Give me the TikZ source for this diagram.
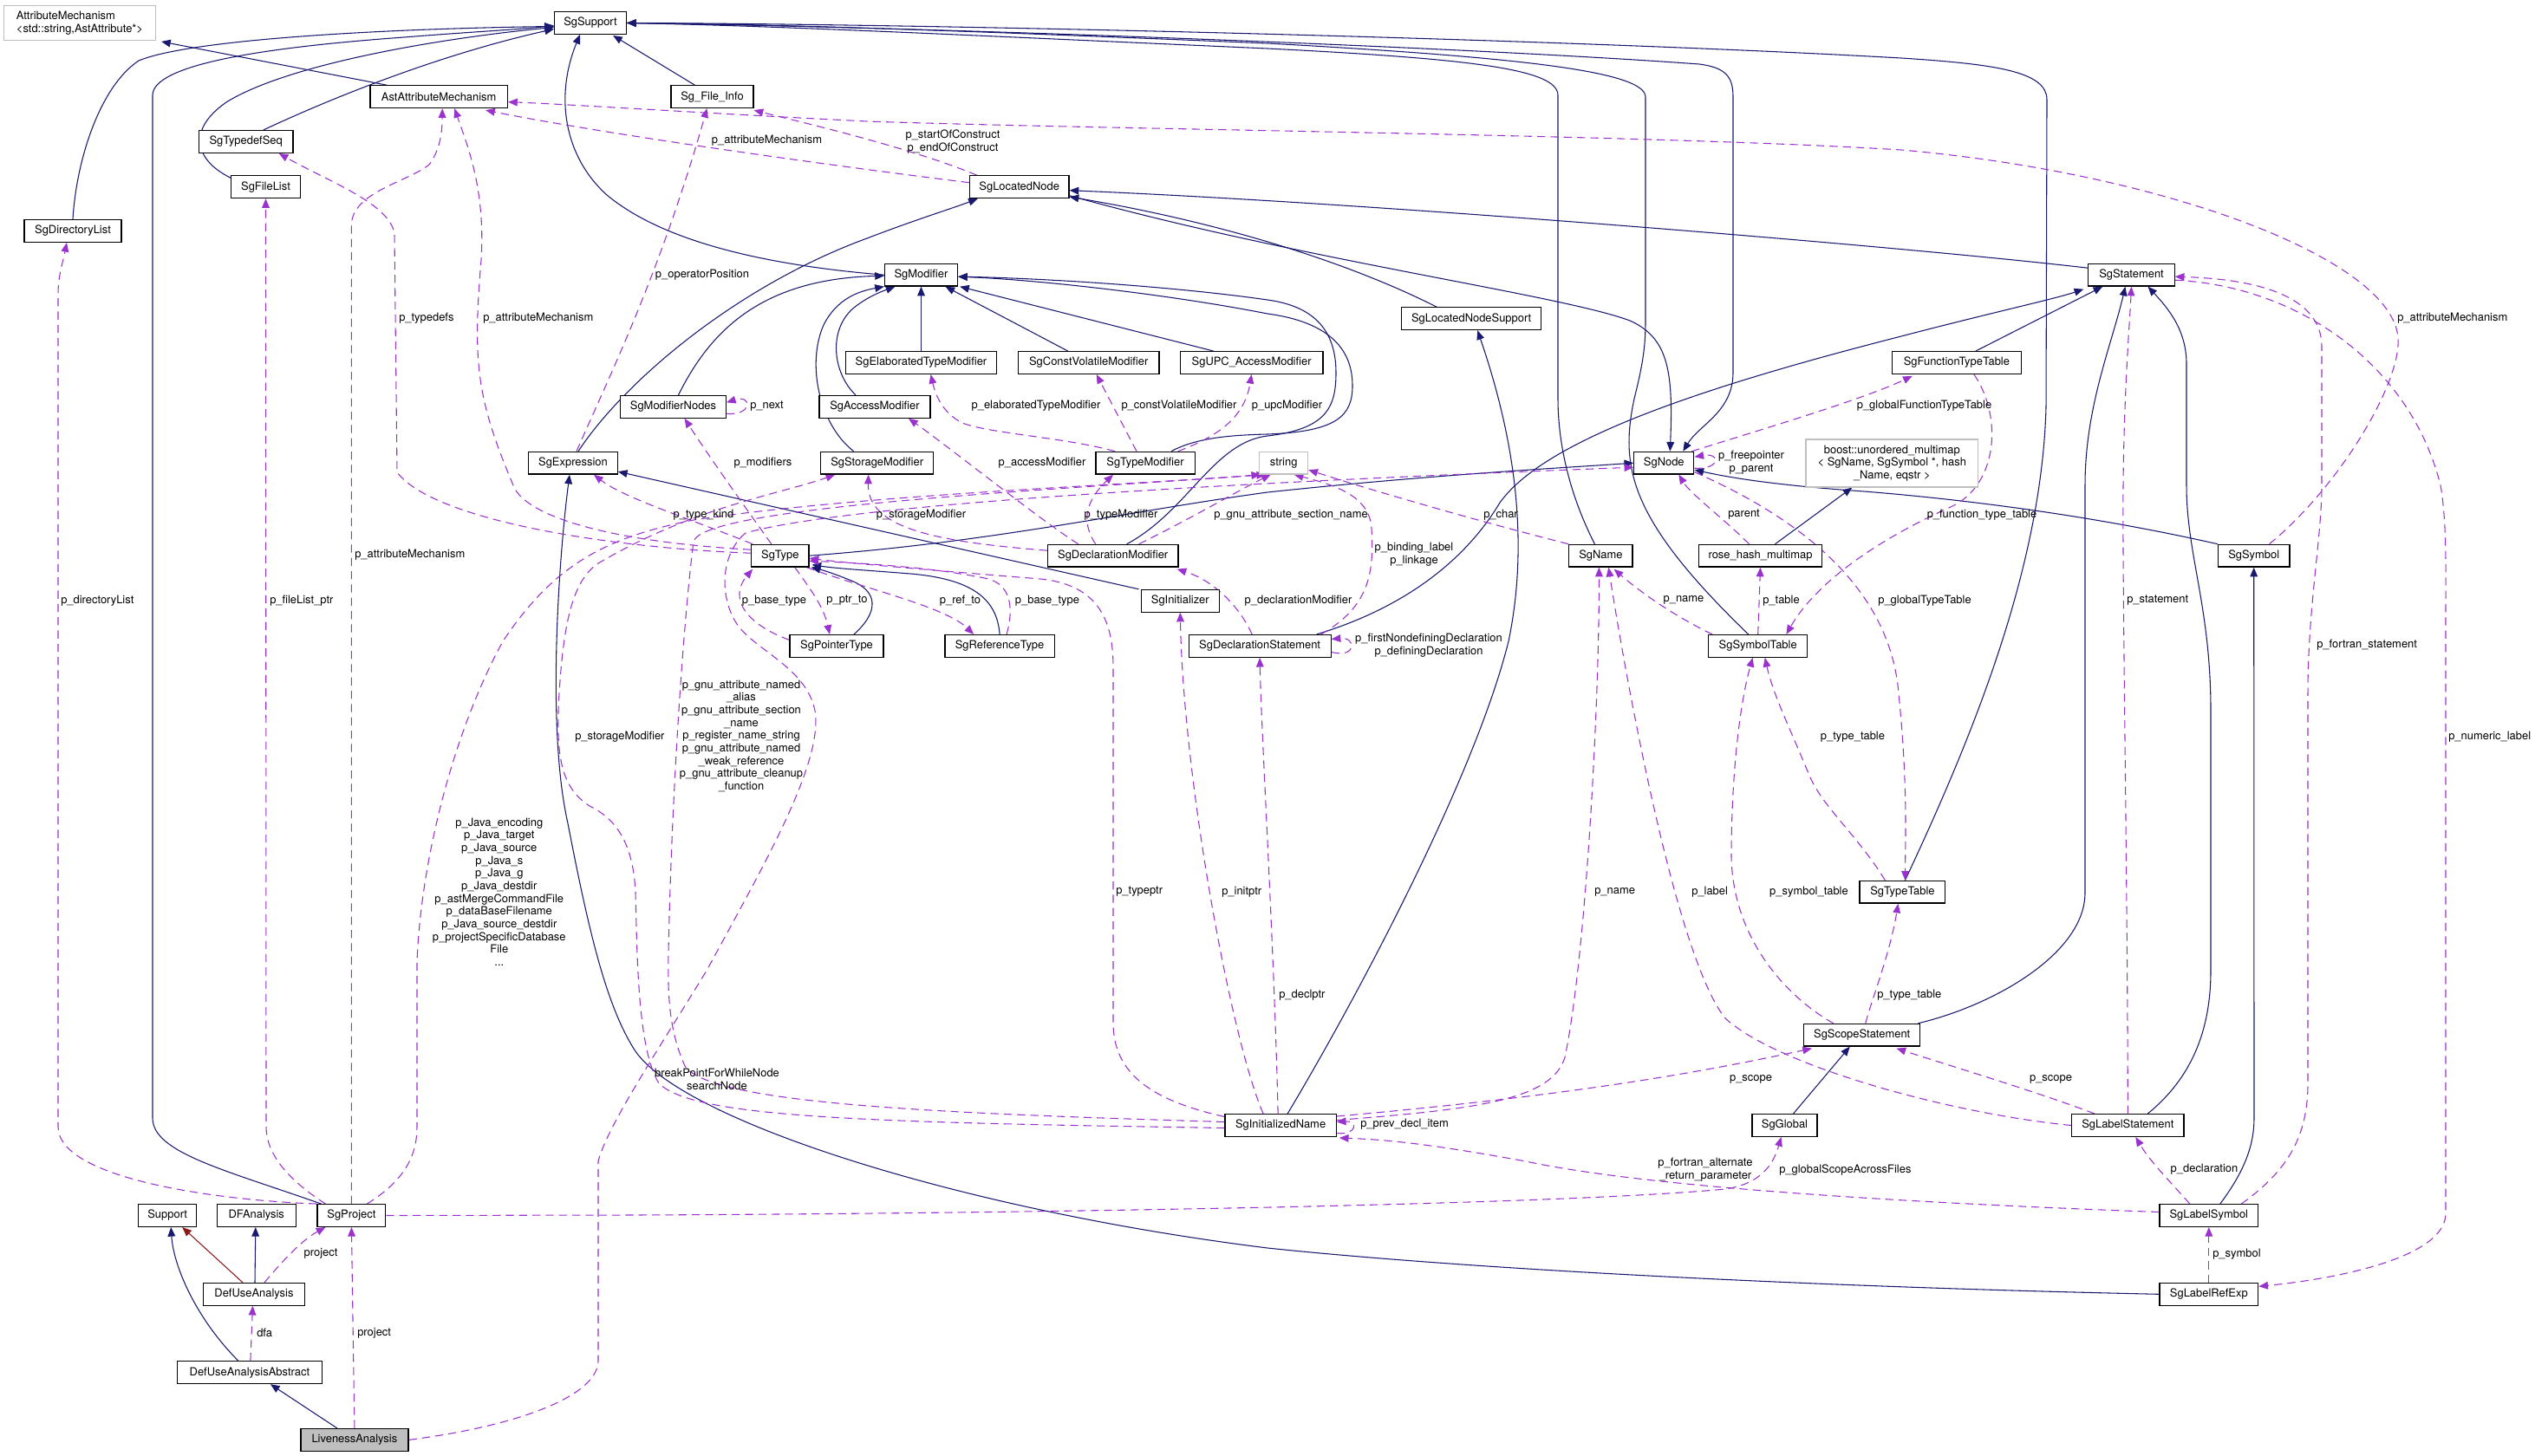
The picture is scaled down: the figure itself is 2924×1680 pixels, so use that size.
\documentclass[tikz,border=0pt]{standalone}
\usepackage{fontspec}
\setmainfont{TeX Gyre Heros}
\usetikzlibrary{arrows.meta,calc}
\definecolor{navy}{HTML}{191970}
\definecolor{purp}{HTML}{9A32CD}
\definecolor{dred}{HTML}{8B1A1A}
\definecolor{gb}{HTML}{BFBFBF}
\newcommand\fs{\fontsize{9.7pt}{11pt}\selectfont}
\newcommand\bx[4]{\node[box,minimum width=#3*0.75pt] (#1) at (#2) {#4};}
\pgfdeclarelayer{back}
\pgfdeclarelayer{bg}
\pgfsetlayers{back,bg,main}
\begin{document}
\begin{tikzpicture}[x=0.75pt,y=-0.75pt,
  box/.style={draw=black,line width=0.9pt,fill=white,inner sep=0pt,minimum height=19.3pt,font=\fs},
  gbox/.style={box,draw=gb},
  tipa/.style={-{Triangle[length=8pt,width=6.5pt]}},
  inh/.style={draw=navy,line width=0.8pt,tipa},
  inhred/.style={draw=dred,line width=0.8pt,tipa},
  use/.style={draw=purp,line width=0.8pt,dash pattern=on 7pt off 4.5pt,tipa},
  lbl/.style={font=\fs,inner sep=0pt,align=center}]
\begin{pgfonlayer}{back}
\fill[white] (0,0) rectangle (2924,1680);
\end{pgfonlayer}
\useasboundingbox (0,0) rectangle (2924,1680);

% ---------- nodes ----------
\bx{SgSupport}{681,26.5}{83}{SgSupport}
\node[gbox,minimum width=175*0.75pt,minimum height=40*0.75pt,align=left] (AttrMech) at (92,26.4) {AttributeMechanism\\<std::string,AstAttribute*>};
\bx{AstAttr}{506.2,111.7}{158.5}{AstAttributeMechanism}
\bx{SgTypedefSeq}{283.7,163.5}{108.6}{SgTypedefSeq}
\bx{SgFileList}{306.5,215.7}{79.7}{SgFileList}
\bx{SgDirectoryList}{84,266.5}{112}{SgDirectoryList}
\bx{SgExpression}{661,534.2}{102.6}{SgExpression}
\bx{SgFileInfo}{821.5,111.7}{95}{Sg\_File\_Info}
\bx{SgLocatedNode}{1175.7,215.7}{114.6}{SgLocatedNode}
\bx{SgModifier}{1062.5,317.2}{84}{SgModifier}
\bx{SgElab}{1062.5,418.5}{174.3}{SgElaboratedTypeModifier}
\bx{SgConstVolatile}{1255.7,418.5}{162.6}{SgConstVolatileModifier}
\bx{SgUPC}{1443.6,418.5}{164.6}{SgUPC\_AccessModifier}
\bx{SgModifierNodes}{776.5,469.3}{121.7}{SgModifierNodes}
\bx{SgAccessModifier}{1009,469.3}{128}{SgAccessModifier}
\bx{SgStorageModifier}{1011.7,534.2}{129.7}{SgStorageModifier}
\bx{SgTypeModifier}{1321,534.2}{114.2}{SgTypeModifier}
\node[gbox,minimum width=56*0.75pt] (string) at (1480.7,534.2) {string};
\bx{SgLocatedNodeSupport}{1697.2,367.7}{160.8}{SgLocatedNodeSupport}
\bx{SgNode}{1919.3,534.2}{69}{SgNode}
\node[gbox,minimum width=198.6*0.75pt,minimum height=55*0.75pt,align=center] (boost) at (2182.3,534.5) {boost::unordered\_multimap\\< SgName, SgSymbol *, hash\\\_Name, eqstr >};
\bx{SgFunctionTypeTable}{2256.9,418.5}{149.2}{SgFunctionTypeTable}
\bx{SgStatement}{2458.5,317.2}{99.3}{SgStatement}
\bx{SgType}{899.8,641.2}{66.2}{SgType}
\bx{SgDeclarationModifier}{1283.7,641.2}{150.6}{SgDeclarationModifier}
\bx{SgInitializer}{1361.3,693.3}{90.4}{SgInitializer}
\bx{SgPointerType}{965,745.4}{108}{SgPointerType}
\bx{SgReferenceType}{1153.1,745.4}{126.3}{SgReferenceType}
\bx{SgDeclarationStatement}{1453.1,745.4}{164}{SgDeclarationStatement}
\bx{SgName}{1846.4,641.2}{73.2}{SgName}
\bx{rosehash}{2030.5,641.2}{142.2}{rose\_hash\_multimap}
\bx{SgSymbolTable}{2027.7,745.4}{114.2}{SgSymbolTable}
\bx{SgTypeTable}{2194.4,1029.2}{98.8}{SgTypeTable}
\bx{SgSymbol}{2599.7,641.2}{82.5}{SgSymbol}
\bx{Support}{193.2,1402.5}{66.7}{Support}
\bx{DFAnalysis}{295.8,1402.5}{91}{DFAnalysis}
\bx{SgProject}{405.4,1402.5}{78.8}{SgProject}
\bx{DefUseAnalysis}{293,1493.3}{117}{DefUseAnalysis}
\bx{DefUseAnalysisAbstract}{287.9,1583.7}{166.4}{DefUseAnalysisAbstract}
\node[box,fill=gb,minimum width=124*0.75pt] (LivenessAnalysis) at (408.9,1661.4) {LivenessAnalysis};
\bx{SgInitializedName}{1477.1,1298.5}{128.3}{SgInitializedName}
\bx{SgScopeStatement}{2147.7,1194.2}{134.3}{SgScopeStatement}
\bx{SgGlobal}{2058.5,1298.5}{75}{SgGlobal}
\bx{SgLabelStatement}{2454.3,1298.5}{129.2}{SgLabelStatement}
\bx{SgLabelSymbol}{2547.8,1402.5}{113.8}{SgLabelSymbol}
\bx{SgLabelRefExp}{2547.8,1493.3}{113.8}{SgLabelRefExp}

\begin{pgfonlayer}{bg}
% ---------- inheritance ----------
\draw[inh] (SgDirectoryList.north) .. controls (88,185) and (115,100) .. (160,70) .. controls (220,45) and (450,33) .. ($(SgSupport.west)+(0,4)$);
\draw[inh] ($(SgProject.north)+(-35,0)$) .. controls (260,1350) and (176,1330) .. (176,1290) -- (176,110) .. controls (176,75) and (300,55) .. (466,43) .. controls (540,37) and (600,34) .. ($(SgSupport.west)+(0,3)$);
\draw[inh] ($(SgFileList.north west)+(0,3)$) .. controls (225,185) and (215,150) .. (261,118) .. controls (330,75) and (500,45) .. ($(SgSupport.west)+(0,5)$);
\draw[inh] ($(SgTypedefSeq.north)+(20,0)$) .. controls (400,105) and (520,60) .. ($(SgSupport.west)+(0,7)$);
\draw[inh] ($(AstAttr.north west)+(20,0)$) -- ($(AttrMech.south east)+(6,1)$);
\draw[inh] ($(SgFileInfo.north)+(-20,0)$) -- ($(SgSupport.south east)+(-16,1)$);
\draw[inh] (SgModifier.west) .. controls (870,305) and (760,275) .. (700,225) .. controls (650,180) and (640,110) .. ($(SgSupport.south)+(-12,0)$);
\draw[inh] (SgSupport.east) .. controls (1100,32) and (1700,55) .. (1960,74) .. controls (1992,78) and (1999,90) .. (1999,112) -- (1999,430) .. controls (1999,475) and (1960,490) .. ($(SgNode.north)+(22,0)$);
\draw[inh] ($(SgName.north)+(-7,0)$) .. controls (1805,560) and (1797,500) .. (1797,460) -- (1797,110) .. controls (1797,80) and (1700,68) .. (1462,56) .. controls (1100,40) and (900,30) .. (SgSupport.east);
\draw[inh] ($(SgSymbolTable.north)+(-11,0)$) .. controls (1880,600) and (1868,540) .. (1885,460) .. controls (1895,420) and (1898,400) .. (1898,370) -- (1898,112) .. controls (1898,82) and (1750,66) .. (1462,50) .. controls (1100,35) and (900,28) .. (SgSupport.east);
\draw[inh] ($(SgTypeTable.north)+(3,0)$) .. controls (2280,840) and (2355,650) .. (2360,470) -- (2361,115) .. controls (2361,82) and (2300,74) .. (2193,67) .. controls (1800,45) and (1100,28) .. (SgSupport.east);
\draw[inh] ($(SgPointerType.north)+(20,0)$) .. controls (1015,705) and (1012,682) .. (982,670) .. controls (965,663) and (950,658) .. ($(SgType.south east)+(2,0)$);
\draw[inh] (SgReferenceType.north) .. controls (1150,690) and (1120,668) .. (1050,662) .. controls (1000,658) and (965,656) .. ($(SgType.south east)+(3,-3)$);
\draw[inh] (SgType.east) .. controls (1150,625) and (1300,590) .. (1462,568) .. controls (1650,548) and (1800,540) .. (SgNode.west);
\draw[inh] (SgSymbol.north west) .. controls (2400,592) and (2250,575) .. (2150,567) .. controls (2050,560) and (2000,552) .. ($(SgNode.east)+(0,8)$);
\draw[inh] ($(SgInitializer.north west)+(-2,0)$) -- ($(SgExpression.east)+(0,10)$);
\draw[inh] ($(SgDeclarationModifier.north)+(16,0)$) .. controls (1370,590) and (1400,510) .. (1462,503) .. controls (1530,495) and (1541,470) .. (1541,430) .. controls (1541,372) and (1505,352) .. (1462,346) .. controls (1350,330) and (1200,321) .. ($(SgModifier.east)+(0,2)$);
\draw[inh] ($(SgTypeModifier.north)+(30,0)$) .. controls (1380,505) and (1420,502) .. (1462,501) .. controls (1542,498) and (1560,480) .. (1560,445) .. controls (1560,395) and (1522,370) .. (1462,362) .. controls (1350,340) and (1200,323) .. ($(SgModifier.east)+(0,2)$);
\draw[inh] ($(SgStorageModifier.north)+(-27,0)$) .. controls (945,490) and (930,420) .. (950,375) .. controls (965,345) and (990,336) .. (SgModifier.south west);
\draw[inh] ($(SgAccessModifier.north)+(-22,0)$) .. controls (960,430) and (955,380) .. (985,355) .. controls (1000,343) and (1015,337) .. ($(SgModifier.south)+(-30,0)$);
\draw[inh] (SgElab.north) -- (SgModifier.south);
\draw[inh] ($(SgConstVolatile.north)+(-24,0)$) -- ($(SgModifier.south)+(28,0)$);
\draw[inh] ($(SgUPC.north)+(-44,0)$) -- ($(SgModifier.south east)+(2,0)$);
\draw[inh] ($(SgModifierNodes.north)+(6,0)$) .. controls (820,380) and (880,322) .. ($(SgModifier.west)+(0,1)$);
\draw[inh] ($(SgExpression.north)+(6,0)$) .. controls (720,440) and (850,330) .. (1000,275) .. controls (1060,252) and (1100,240) .. ($(SgLocatedNode.south west)+(10,0)$);
\draw[inh] ($(SgLocatedNodeSupport.north)+(-40,0)$) .. controls (1550,300) and (1400,255) .. ($(SgLocatedNode.south east)+(0,-2)$);
\draw[inh] ($(SgStatement.west)+(0,-8)$) .. controls (2200,285) and (1600,235) .. ($(SgLocatedNode.east)+(0,4)$);
\draw[inh] ($(SgLocatedNode.east)+(0,10)$) .. controls (1500,300) and (1800,340) .. (1880,370) .. controls (1925,390) and (1930,430) .. ($(SgNode.north)+(7,0)$);
\draw[inh] ($(SgDeclarationStatement.north east)+(-17,0)$) .. controls (1640,695) and (1700,630) .. (1730,580) .. controls (1780,510) and (1950,450) .. (2193,388) .. controls (2300,360) and (2370,345) .. ($(SgStatement.south west)+(-5,3)$);
\draw[inh] ($(SgInitializedName.north)+(8,0)$) .. controls (1560,1160) and (1700,900) .. (1740,740) .. controls (1765,620) and (1745,500) .. ($(SgLocatedNodeSupport.south)+(7,0)$);
\draw[inh] ($(SgFunctionTypeTable.north)+(22,0)$) -- ($(SgStatement.south west)+(17,0)$);
\draw[inh] ($(SgScopeStatement.north east)+(-3,0)$) .. controls (2300,1160) and (2405,1100) .. (2405,1030) -- (2405,560) .. controls (2405,470) and (2435,400) .. ($(SgStatement.south)+(-7,0)$);
\draw[inh] ($(SgLabelStatement.north)+(23,0)$) .. controls (2520,1250) and (2550,1200) .. (2550,1120) -- (2550,820) .. controls (2550,700) and (2522,640) .. (2522,560) -- (2522,420) .. controls (2522,380) and (2500,355) .. ($(SgStatement.south)+(19,0)$);
\draw[inh] ($(SgLabelSymbol.north)+(13,0)$) .. controls (2590,1350) and (2600,1320) .. (2600,1290) -- (SgSymbol.south);
\draw[inh] (SgLabelRefExp.west) .. controls (2100,1485) and (1700,1465) .. (1462,1440) .. controls (1100,1395) and (780,1290) .. (731,1210) .. controls (700,1160) and (680,1080) .. (655,950) .. controls (630,840) and (645,640) .. ($(SgExpression.south)+(-4,0)$);
\draw[inh] ($(SgGlobal.north)+(10,0)$) -- ($(SgScopeStatement.south)+(-14,0)$);
\draw[inh] ($(LivenessAnalysis.north)+(-20,0)$) -- ($(DefUseAnalysisAbstract.south)+(24,0)$);
\draw[inh] ($(DefUseAnalysisAbstract.north)+(-13,0)$) .. controls (225,1520) and (200,1460) .. ($(Support.south)+(4,0)$);
\draw[inhred] ($(DefUseAnalysis.north)+(-13,0)$) -- ($(Support.south)+(17,0)$);
\draw[inh] ($(DefUseAnalysis.north)+(1,0)$) -- ($(DFAnalysis.south)+(-1,0)$);
\draw[inh] ($(rosehash.north)+(17,0)$) -- ($(boost.south)+(-46,0)$);

% ---------- usage (dashed) ----------
\draw[use] (SgProject.north west) .. controls (250,1385) and (67,1360) .. (67,1300) -- (67,340) .. controls (67,318) and (72,305) .. ($(SgDirectoryList.south)+(-7,0)$);
\draw[use] ($(SgProject.north)+(-30,0)$) .. controls (330,1360) and (307,1330) .. (307,1300) -- (SgFileList.south);
\draw[use] (SgProject.north) -- (405.4,260) .. controls (405.4,222) and (470,210) .. (495,190) .. controls (510,170) and (510,145) .. ($(AstAttr.south)+(4,0)$);
\draw[use] ($(SgType.west)+(0,-3)$) .. controls (700,632) and (500,600) .. (458,545) -- (455,270) .. controls (450,235) and (380,210) .. ($(SgTypedefSeq.south)+(38,0)$);
\draw[use] ($(SgType.west)+(0,-7)$) .. controls (700,625) and (605,595) .. (592,560) .. controls (550,460) and (545,420) .. (555,300) .. controls (560,220) and (540,170) .. ($(AstAttr.south)+(18,0)$);
\draw[use] ($(SgLocatedNode.west)+(0,-5)$) .. controls (950,190) and (700,155) .. ($(AstAttr.south east)+(-26,2)$);
\draw[use] ($(SgSymbol.north east)+(-24,0)$) .. controls (2700,560) and (2770,440) .. (2766,390) .. controls (2760,300) and (2500,200) .. (2193,173) .. controls (1900,155) and (1300,150) .. (1000,140) .. controls (800,130) and (650,120) .. ($(AstAttr.east)+(0,6)$);
\draw[use] ($(SgLocatedNode.north west)+(9,0)$) .. controls (1050,170) and (920,140) .. ($(SgFileInfo.south east)+(0,2)$);
\draw[use] ($(SgExpression.north)+(4,0)$) .. controls (700,440) and (760,320) .. ($(SgFileInfo.south)+(-6,0)$);
\draw[use] ($(SgModifierNodes.east)+(0,8)$) .. controls (868,480) and (868,455) .. ($(SgModifierNodes.east)+(0,-5)$);
\draw[use] ($(SgType.north)+(-10,0)$) .. controls (870,600) and (820,530) .. ($(SgModifierNodes.south)+(13,0)$);
\draw[use] ($(SgType.north west)+(2,0)$) .. controls (800,600) and (720,575) .. ($(SgExpression.south)+(24,0)$);
\draw[use] ($(SgDeclarationModifier.west)+(0,-6)$) .. controls (1080,625) and (1000,610) .. ($(SgStorageModifier.south)+(-10,0)$);
\draw[use] ($(SgInitializedName.west)+(0,3)$) .. controls (1000,1295) and (800,1290) .. (760,1250) .. controls (735,1210) and (735,1100) .. (733,1030) .. controls (730,960) and (700,940) .. (680,930) .. controls (650,910) and (640,880) .. (645,800) .. controls (650,720) and (660,670) .. (690,650) .. controls (800,585) and (900,570) .. ($(SgStorageModifier.south west)+(17,0)$);
\draw[use] ($(SgDeclarationModifier.north)+(-40,0)$) .. controls (1200,600) and (1100,520) .. ($(SgAccessModifier.south)+(39,0)$);
\draw[use] ($(SgTypeModifier.north)+(-35,0)$) .. controls (1230,505) and (1140,500) .. (1110,488) .. controls (1090,478) and (1080,460) .. ($(SgElab.south)+(11,0)$);
\draw[use] ($(SgTypeModifier.north)+(-10,0)$) -- ($(SgConstVolatile.south)+(9,0)$);
\draw[use] ($(SgTypeModifier.north east)+(-20,0)$) .. controls (1400,505) and (1435,485) .. (SgUPC.south);
\draw[use] ($(SgDeclarationModifier.north)+(-20,0)$) .. controls (1245,600) and (1255,575) .. ($(SgTypeModifier.south)+(-37,0)$);
\draw[use] ($(SgDeclarationModifier.north)+(30,0)$) .. controls (1380,595) and (1430,565) .. ($(string.south)+(-15,0)$);
\draw[use] (SgName.north west) .. controls (1700,600) and (1580,565) .. ($(string.east)+(0,8)$);
\draw[use] ($(SgDeclarationStatement.north east)+(-12,0)$) .. controls (1580,700) and (1585,660) .. (1582,610) .. controls (1580,572) and (1540,560) .. ($(string.south)+(12,0)$);
\draw[use] ($(SgDeclarationStatement.north)+(-9,0)$) .. controls (1430,700) and (1400,670) .. ($(SgDeclarationModifier.south east)+(-2,2)$);
\draw[use] ($(SgDeclarationStatement.east)+(0,7)$) .. controls (1565,760) and (1565,735) .. ($(SgDeclarationStatement.east)+(0,-8)$);
\draw[use] ($(SgInitializedName.west)+(0,-10)$) .. controls (1330,1270) and (1284,1240) .. (1284,1180) -- (1284,770) .. controls (1284,720) and (1270,675) .. (1200,668) .. controls (1100,660) and (980,650) .. ($(SgType.east)+(0,3)$);
\draw[use] ($(SgInitializedName.north)+(-20,0)$) .. controls (1420,1200) and (1365,900) .. (SgInitializer.south);
\draw[use] ($(SgInitializedName.north)+(-3,0)$) .. controls (1470,1100) and (1455,850) .. (SgDeclarationStatement.south);
\draw[use] ($(SgInitializedName.east)+(0,-6)$) .. controls (1700,1280) and (1790,1270) .. (1805,1220) .. controls (1830,1100) and (1845,800) .. ($(SgName.south)+(-2,0)$);
\draw[use] ($(SgInitializedName.east)+(0,9)$) .. controls (1566,1310) and (1566,1293) .. ($(SgInitializedName.east)+(0,-4)$);
\draw[use] ($(SgInitializedName.north east)+(0,3)$) .. controls (1800,1265) and (1950,1240) .. ($(SgScopeStatement.south west)+(10,2)$);
\draw[use] (SgLabelStatement.west) .. controls (2250,1285) and (2050,1230) .. (1990,1175) .. controls (1930,1100) and (1870,750) .. ($(SgName.south)+(9,0)$);
\draw[use] ($(SgSymbolTable.north west)+(5,0)$) .. controls (1940,715) and (1900,690) .. ($(SgName.south east)+(-22,2)$);
\draw[use] (SgSymbolTable.north) -- (rosehash.south);
\draw[use] ($(rosehash.north)+(-13,0)$) .. controls (1990,600) and (1950,570) .. ($(SgNode.south)+(17,0)$);
\draw[use] ($(SgNode.north east)+(-3,0)$) .. controls (2050,490) and (2150,460) .. ($(SgFunctionTypeTable.south west)+(24,2)$);
\draw[use] ($(SgNode.south east)+(0,-3)$) .. controls (2080,600) and (2180,680) .. (2190,800) .. controls (2200,900) and (2198,960) .. ($(SgTypeTable.north)+(3,0)$);
\draw[use] ($(SgFunctionTypeTable.south)+(20,0)$) .. controls (2310,480) and (2305,560) .. (2250,585) .. controls (2150,630) and (2090,680) .. ($(SgSymbolTable.north east)+(-25,0)$);
\draw[use] ($(SgNode.east)+(0,6)$) .. controls (1985,542) and (1985,522) .. ($(SgNode.east)+(0,-7)$);
\draw[use] ($(SgScopeStatement.north)+(-33,0)$) .. controls (2060,1150) and (1995,1080) .. (1997,980) .. controls (1998,870) and (2010,800) .. ($(SgSymbolTable.south)+(-6,0)$);
\draw[use] ($(SgTypeTable.north west)+(30,0)$) .. controls (2140,960) and (2100,930) .. (2085,890) .. controls (2060,830) and (2045,800) .. ($(SgSymbolTable.south)+(8,0)$);
\draw[use] ($(SgScopeStatement.north)+(4,0)$) .. controls (2160,1150) and (2180,1100) .. ($(SgTypeTable.south)+(-5,0)$);
\draw[use] ($(SgLabelStatement.north west)+(27,0)$) .. controls (2350,1260) and (2250,1230) .. ($(SgScopeStatement.south east)+(-28,2)$);
\draw[use] (SgLabelStatement.north) .. controls (2454,1000) and (2448,700) .. (2449,560) .. controls (2450,450) and (2456,380) .. (SgStatement.south);
\draw[use] ($(SgLabelSymbol.north east)+(-20,0)$) .. controls (2640,1350) and (2662,1310) .. (2662,1250) -- (2662,800) .. controls (2662,700) and (2678,620) .. (2678,560) -- (2678,400) .. controls (2678,340) and (2600,322) .. ($(SgStatement.east)+(0,2)$);
\draw[use] ($(SgStatement.east)+(0,6)$) .. controls (2650,330) and (2780,420) .. (2815,560) .. controls (2822,600) and (2821,650) .. (2821,700) -- (2821,1400) .. controls (2821,1450) and (2700,1475) .. ($(SgLabelRefExp.east)+(0,-9)$);
\draw[use] (SgLabelRefExp.north) -- (SgLabelSymbol.south);
\draw[use] ($(SgLabelSymbol.north)+(-22,0)$) .. controls (2500,1360) and (2480,1340) .. ($(SgLabelStatement.south)+(9,0)$);
\draw[use] ($(SgLabelSymbol.west)+(0,-4)$) .. controls (2200,1388) and (1900,1370) .. (1760,1340) .. controls (1650,1320) and (1600,1315) .. ($(SgInitializedName.south east)+(3,1)$);
\draw[use] (SgProject.east) -- (731,1402) .. controls (1200,1400) and (1800,1390) .. (1990,1372) .. controls (2030,1366) and (2045,1345) .. ($(SgGlobal.south)+(-4,0)$);
\draw[use] ($(SgProject.north east)+(-22,0)$) .. controls (470,1360) and (481,1330) .. (481,1300) -- (481,1110) .. controls (485,1000) and (520,850) .. (580,740) .. controls (640,650) and (700,620) .. (800,600) .. controls (1000,570) and (1300,560) .. ($(string.south west)+(2,0)$);
\draw[use] ($(SgInitializedName.west)+(0,-4)$) .. controls (1100,1285) and (820,1275) .. (790,1230) .. controls (772,1190) and (770,1150) .. (771,1100) .. controls (775,900) and (790,700) .. (800,625) .. controls (810,585) and (1200,566) .. ($(string.south west)+(8,0)$);
\draw[use] (LivenessAnalysis.east) .. controls (600,1645) and (690,1610) .. (690,1570) -- (690,1340) .. controls (700,1300) and (760,1210) .. (815,1120) .. controls (880,1000) and (950,880) .. (940,820) .. controls (930,770) and (870,750) .. (850,720) .. controls (830,690) and (830,640) .. (860,615) .. controls (1000,575) and (1600,550) .. ($(SgNode.west)+(0,5)$);
\draw[use] ($(DefUseAnalysis.north)+(12,0)$) .. controls (330,1450) and (350,1430) .. ($(SgProject.south)+(-30,0)$);
\draw[use] (LivenessAnalysis.north) -- (SgProject.south);
\draw[use] ($(DefUseAnalysisAbstract.north)+(1,0)$) -- ($(DefUseAnalysis.south)+(-1.5,0)$);
\draw[use] ($(SgPointerType.west)+(0,-7)$) .. controls (860,720) and (840,690) .. ($(SgType.south west)+(2,2)$);
\draw[use] ($(SgType.south)+(17,0)$) .. controls (935,680) and (950,700) .. ($(SgPointerType.north)+(-8,0)$);
\draw[use] ($(SgType.south east)+(-3,0)$) .. controls (1000,680) and (1090,700) .. ($(SgReferenceType.north)+(-30,0)$);
\draw[use] ($(SgReferenceType.north)+(8,0)$) .. controls (1170,700) and (1165,675) .. (1140,668) .. controls (1080,655) and (1000,650) .. ($(SgType.east)+(0,6)$);
\end{pgfonlayer}

% ---------- labels ----------
\node[lbl,anchor=west] at (70,693) {p\_directoryList};
\node[lbl,anchor=west] at (311,693) {p\_fileList\_ptr};
\node[lbl,anchor=west] at (409,640) {p\_attributeMechanism};
\node[lbl,anchor=west] at (460,367) {p\_typedefs};
\node[lbl,anchor=west] at (557,367) {p\_attributeMechanism};
\node[lbl] at (884.5,162.5) {p\_attributeMechanism};
\node[lbl,anchor=west] at (2765,367) {p\_attributeMechanism};
\node[lbl] at (1099,163.5) {p\_startOfConstruct\\p\_endOfConstruct};
\node[lbl] at (810,316.8) {p\_operatorPosition};
\node[lbl,anchor=west] at (865,468.6) {p\_next};
\node[lbl] at (880,534) {p\_modifiers};
\node[lbl] at (811.5,594) {p\_type\_kind};
\node[lbl] at (1062.5,594) {p\_storageModifier};
\node[lbl,anchor=west] at (663,850) {p\_storageModifier};
\node[lbl] at (1202,534) {p\_accessModifier};
\node[lbl] at (1195,468.6) {p\_elaboratedTypeModifier};
\node[lbl] at (1360,468.6) {p\_constVolatileModifier};
\node[lbl] at (1484.5,468.6) {p\_upcModifier};
\node[lbl] at (1293,594) {p\_typeModifier};
\node[lbl] at (1489,594) {p\_gnu\_attribute\_section\_name};
\node[lbl] at (1731,594) {p\_char};
\node[lbl] at (1631,640) {p\_binding\_label\\p\_linkage};
\node[lbl] at (1497.5,692.9) {p\_declarationModifier};
\node[lbl] at (1648,744.5) {p\_firstNondefiningDeclaration\\p\_definingDeclaration};
\node[lbl,anchor=west] at (1287,1029) {p\_typeptr};
\node[lbl,anchor=west] at (1409,1029) {p\_initptr};
\node[lbl,anchor=west] at (1475,1148.6) {p\_declptr};
\node[lbl,anchor=west] at (1839,1029) {p\_name};
\node[lbl,anchor=west] at (1569,1297.5) {p\_prev\_decl\_item};
\node[lbl] at (2019.5,1245.7) {p\_scope};
\node[lbl,anchor=west] at (1951,1029) {p\_label};
\node[lbl] at (1942,692.9) {p\_name};
\node[lbl,anchor=west] at (2033,692.9) {p\_table};
\node[lbl] at (2011.5,594) {parent};
\node[lbl] at (2219.5,468.6) {p\_globalFunctionTypeTable};
\node[lbl] at (2220,692.9) {p\_globalTypeTable};
\node[lbl] at (2286,594) {p\_function\_type\_table};
\node[lbl] at (2020,534) {p\_freepointer\\p\_parent};
\node[lbl] at (2086.5,1029) {p\_symbol\_table};
\node[lbl] at (2137,850) {p\_type\_table};
\node[lbl,anchor=west] at (2165,1148.6) {p\_type\_table};
\node[lbl] at (2365.5,1245.7) {p\_scope};
\node[lbl,anchor=west] at (2453,692.9) {p\_statement};
\node[lbl,anchor=west] at (2672,744.6) {p\_fortran\_statement};
\node[lbl,anchor=west] at (2824,850) {p\_numeric\_label};
\node[lbl,anchor=west] at (2552,1446.8) {p\_symbol};
\node[lbl] at (2542.5,1349.6) {p\_declaration};
\node[lbl] at (1967,1349.6) {p\_fortran\_alternate\\\_return\_parameter};
\node[lbl,anchor=west] at (2052,1349.6) {p\_globalScopeAcrossFiles};
\node[lbl] at (575.8,1029) {p\_Java\_encoding\\p\_Java\_target\\p\_Java\_source\\p\_Java\_s\\p\_Java\_g\\p\_Java\_destdir\\p\_astMergeCommandFile\\p\_dataBaseFilename\\p\_Java\_source\_destdir\\p\_projectSpecificDatabase\\File\\...};
\node[lbl] at (855,849.3) {p\_gnu\_attribute\_named\\\_alias\\p\_gnu\_attribute\_section\\\_name\\p\_register\_name\_string\\p\_gnu\_attribute\_named\\\_weak\_reference\\p\_gnu\_attribute\_cleanup\\\_function};
\node[lbl] at (827,1245.7) {breakPointForWhileNode\\searchNode};
\node[lbl] at (370,1446.8) {project};
\node[lbl,anchor=west] at (412,1537.9) {project};
\node[lbl,anchor=west] at (296,1537.9) {dfa};
\node[lbl] at (893,692.9) {p\_base\_type};
\node[lbl] at (977,692.9) {p\_ptr\_to};
\node[lbl] at (1107.5,692.9) {p\_ref\_to};
\node[lbl] at (1208,692.9) {p\_base\_type};
\end{tikzpicture}
\end{document}
